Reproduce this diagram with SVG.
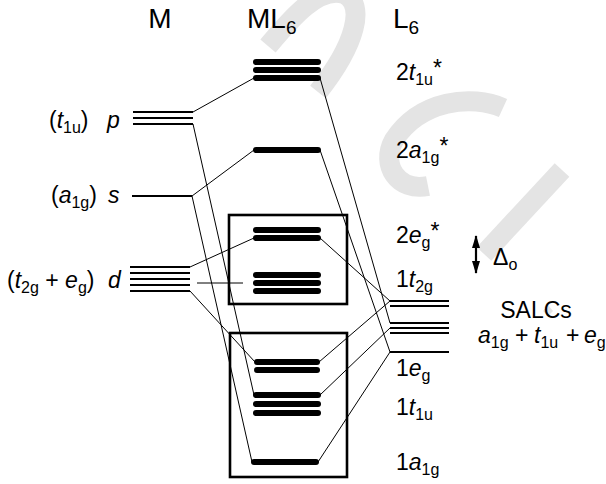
<svg xmlns="http://www.w3.org/2000/svg" width="606" height="484" viewBox="0 0 606 484">
  <style>
    text { font-family: "Liberation Sans", Arial, sans-serif; fill: #000; }
    .hd { font-size: 28px; }
    .hs { font-size: 19px; }
    .lb { font-size: 23px; }
    .sb { font-size: 16px; }
    .it { font-style: italic; }
    .bar { stroke: #000; stroke-width: 6; stroke-linecap: round; fill: none; }
    .thin { stroke: #000; stroke-width: 2; fill: none; }
    .box { stroke: #000; stroke-width: 2.6; fill: none; }
    .conn line { stroke: #000; stroke-width: 1; }
    .wm { stroke: #e4e4e4; stroke-width: 20; fill: none; stroke-linecap: butt; }
  </style>
  <defs>
    <marker id="ah" viewBox="0 0 13 8" refX="12" refY="4" markerWidth="13" markerHeight="8" orient="auto-start-reverse" markerUnits="userSpaceOnUse">
      <path d="M0,0 L13,4 L0,8 Z" fill="#000"/>
    </marker>
  </defs>
  <rect width="606" height="484" fill="#fff"/>

  <!-- faint background watermark strokes -->
  <g id="watermark">
    <path class="wm" d="M268 46 C290 20 318 -14 344 -6 C366 4 356 44 318 92"/>
    <path class="wm" d="M503 108 C472 94 420 100 394 140 C380 165 398 192 428 186"/>
    <path class="wm" d="M562 170 L484 254"/>
    <polygon points="543,311 548,305 553,311 548,316" fill="#e4e4e4"/>
  </g>

  <!-- column headings -->
  <g id="headings">
    <text class="hd" x="160" y="28" text-anchor="middle">M</text>
    <text class="hd" x="247" y="28">ML<tspan class="hs" dy="6">6</tspan></text>
    <text class="hd" x="393" y="28">L<tspan class="hs" dy="6">6</tspan></text>
  </g>

  <!-- metal valence orbitals -->
  <g id="metal-p">
    <line class="thin" x1="133" y1="112" x2="193" y2="112"/>
    <line class="thin" x1="133" y1="118" x2="193" y2="118"/>
    <line class="thin" x1="133" y1="124" x2="193" y2="124"/>
    <text class="lb" x="49" y="128">(<tspan class="it">t</tspan><tspan class="sb" dy="5">1u</tspan><tspan dy="-5">)</tspan><tspan class="it" x="107">p</tspan></text>
  </g>
  <g id="metal-s">
    <line class="thin" x1="132" y1="196" x2="192" y2="196"/>
    <text class="lb" x="51" y="203">(<tspan class="it">a</tspan><tspan class="sb" dy="5">1g</tspan><tspan dy="-5">)</tspan><tspan class="it" x="108">s</tspan></text>
  </g>
  <g id="metal-d">
    <line class="thin" x1="130" y1="267" x2="190" y2="267"/>
    <line class="thin" x1="130" y1="273" x2="190" y2="273"/>
    <line class="thin" x1="130" y1="279" x2="190" y2="279"/>
    <line class="thin" x1="130" y1="285" x2="190" y2="285"/>
    <line class="thin" x1="130" y1="291" x2="190" y2="291"/>
    <text class="lb" x="7" y="288">(<tspan class="it">t</tspan><tspan class="sb" dy="5">2g</tspan><tspan dy="-5"> + </tspan><tspan class="it">e</tspan><tspan class="sb" dy="5">g</tspan><tspan dy="-5">)</tspan><tspan class="it" x="108">d</tspan></text>
  </g>

  <!-- complex MO levels -->
  <g id="mo-2t1u">
    <line class="bar" x1="256" y1="62" x2="318" y2="62"/>
    <line class="bar" x1="256" y1="70" x2="318" y2="70"/>
    <line class="bar" x1="256" y1="78" x2="318" y2="78"/>
    <text class="lb" x="396" y="80">2<tspan class="it">t</tspan><tspan class="sb" dy="5">1u</tspan><tspan dy="-9">*</tspan></text>
  </g>
  <g id="mo-2a1g">
    <line class="bar" x1="256" y1="150" x2="318" y2="150"/>
    <text class="lb" x="396" y="158">2<tspan class="it">a</tspan><tspan class="sb" dy="5">1g</tspan><tspan dy="-9">*</tspan></text>
  </g>
  <g id="ligand-field-box">
    <rect class="box" x="229" y="215" width="118" height="89"/>
  </g>
  <g id="mo-2eg">
    <line class="bar" x1="256" y1="230" x2="318" y2="230"/>
    <line class="bar" x1="256" y1="238" x2="318" y2="238"/>
    <text class="lb" x="396" y="243">2<tspan class="it">e</tspan><tspan class="sb" dy="5">g</tspan><tspan dy="-9">*</tspan></text>
  </g>
  <g id="mo-1t2g">
    <line class="bar" x1="256" y1="275" x2="318" y2="275"/>
    <line class="bar" x1="256" y1="283" x2="318" y2="283"/>
    <line class="bar" x1="256" y1="291" x2="318" y2="291"/>
    <text class="lb" x="396" y="287">1<tspan class="it">t</tspan><tspan class="sb" dy="5">2g</tspan></text>
  </g>
  <g id="bonding-box">
    <rect class="box" x="230" y="333" width="117" height="144"/>
  </g>
  <g id="mo-1eg">
    <line class="bar" x1="257" y1="362" x2="317" y2="362"/>
    <line class="bar" x1="257" y1="370" x2="317" y2="370"/>
    <text class="lb" x="396" y="376">1<tspan class="it">e</tspan><tspan class="sb" dy="5">g</tspan></text>
  </g>
  <g id="mo-1t1u">
    <line class="bar" x1="256" y1="395" x2="318" y2="395"/>
    <line class="bar" x1="256" y1="404" x2="318" y2="404"/>
    <line class="bar" x1="256" y1="413" x2="318" y2="413"/>
    <text class="lb" x="396" y="415">1<tspan class="it">t</tspan><tspan class="sb" dy="5">1u</tspan></text>
  </g>
  <g id="mo-1a1g">
    <line class="bar" x1="254" y1="462" x2="316" y2="462"/>
    <text class="lb" x="396" y="470">1<tspan class="it">a</tspan><tspan class="sb" dy="5">1g</tspan></text>
  </g>

  <!-- ligand group orbitals -->
  <g id="salcs">
    <line class="thin" x1="390" y1="301" x2="449" y2="301"/>
    <line class="thin" x1="390" y1="306" x2="449" y2="306"/>
    <line class="thin" x1="390" y1="323" x2="449" y2="323"/>
    <line class="thin" x1="390" y1="328" x2="449" y2="328"/>
    <line class="thin" x1="390" y1="333" x2="449" y2="333"/>
    <line class="thin" x1="390" y1="352" x2="449" y2="352"/>
    <text class="lb" x="536" y="318" text-anchor="middle">SALCs</text>
    <text class="lb" x="478" y="343"><tspan class="it">a</tspan><tspan class="sb" dy="5">1g</tspan><tspan dy="-5" x="515">+</tspan><tspan class="it" x="534">t</tspan><tspan class="sb" dy="5">1u</tspan><tspan dy="-5" x="566">+</tspan><tspan class="it" x="584">e</tspan><tspan class="sb" dy="5">g</tspan></text>
  </g>

  <!-- ligand field splitting -->
  <g id="delta-o">
    <line x1="476" y1="236" x2="476" y2="273" stroke="#000" stroke-width="2.2" marker-start="url(#ah)" marker-end="url(#ah)"/>
    <text class="lb" x="493" y="265">Δ<tspan class="sb" dy="5">o</tspan></text>
  </g>

  <!-- correlation lines -->
  <g id="connectors" class="conn">
    <line x1="193" y1="112" x2="254" y2="78"/>
    <line x1="193" y1="124" x2="254" y2="395"/>
    <line x1="192" y1="196" x2="254" y2="150"/>
    <line x1="192" y1="196" x2="252" y2="462"/>
    <line x1="190" y1="267" x2="254" y2="238"/>
    <line x1="190" y1="291" x2="255" y2="362"/>
    <line x1="197" y1="283" x2="243" y2="283"/>
    <line x1="320" y1="78" x2="390" y2="323"/>
    <line x1="320" y1="150" x2="390" y2="352"/>
    <line x1="320" y1="238" x2="390" y2="301"/>
    <line x1="319" y1="362" x2="390" y2="301"/>
    <line x1="320" y1="395" x2="390" y2="328"/>
    <line x1="318" y1="462" x2="390" y2="352"/>
  </g>
</svg>
